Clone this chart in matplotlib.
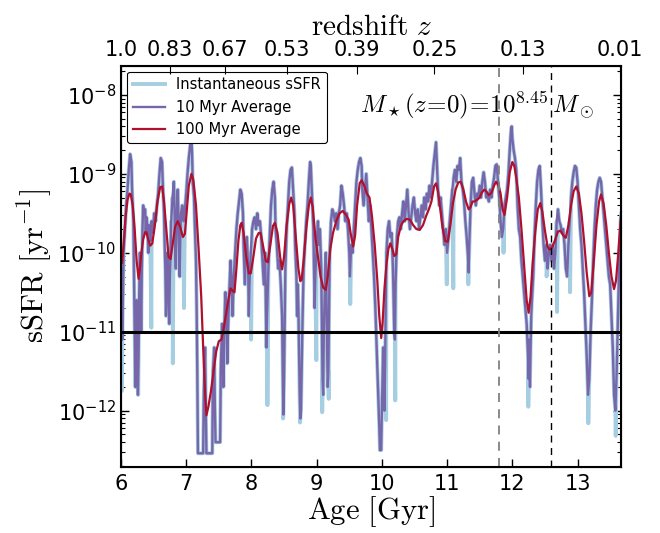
import numpy as np
import matplotlib
matplotlib.use("Agg")
import matplotlib.pyplot as plt

plt.rcParams['mathtext.fontset'] = 'cm'
plt.rcParams['font.family'] = 'DejaVu Sans'

# === Data (age in Gyr, log10 sSFR in yr^-1) ===
# 10 Myr average
age_10 = [6.00, 6.01, 6.02, 6.03, 6.04, 6.06, 6.08, 6.10, 6.12, 6.14, 6.16, 6.17, 6.19, 6.20,
          6.21, 6.22, 6.23, 6.24, 6.25, 6.26, 6.27, 6.28, 6.29, 6.30, 6.31, 6.32, 6.33, 6.34,
          6.35, 6.37, 6.38, 6.39, 6.41, 6.42, 6.43, 6.45, 6.47, 6.49, 6.51, 6.53, 6.55, 6.57,
          6.59, 6.61, 6.63, 6.64, 6.66, 6.67, 6.68, 6.69, 6.70, 6.71, 6.72, 6.73, 6.74, 6.75,
          6.76, 6.77, 6.79, 6.81, 6.82, 6.83, 6.84, 6.85, 6.86, 6.87, 6.88, 6.89, 6.90, 6.91,
          6.92, 6.94, 6.96, 6.98, 7.00, 7.02, 7.04, 7.06, 7.08, 7.09, 7.10, 7.12, 7.13, 7.15,
          7.16, 7.17, 7.18, 7.22, 7.26, 7.27, 7.29, 7.30, 7.31, 7.36, 7.40, 7.41, 7.43, 7.44,
          7.45, 7.50, 7.52, 7.53, 7.55, 7.56, 7.57, 7.58, 7.59, 7.60, 7.62, 7.63, 7.64, 7.66,
          7.68, 7.70, 7.71, 7.73, 7.75, 7.77, 7.79, 7.81, 7.83, 7.85, 7.87, 7.88, 7.90, 7.91,
          7.93, 7.95, 7.96, 7.97, 7.99, 8.01, 8.03, 8.05, 8.07, 8.09, 8.11, 8.13, 8.15, 8.17,
          8.19, 8.21, 8.22, 8.23, 8.24, 8.26, 8.28, 8.30, 8.32, 8.34, 8.36, 8.37, 8.39, 8.41,
          8.43, 8.45, 8.47, 8.48, 8.49, 8.50, 8.51, 8.52, 8.54, 8.56, 8.58, 8.60, 8.62, 8.64,
          8.66, 8.67, 8.69, 8.70, 8.71, 8.72, 8.73, 8.74, 8.75, 8.76, 8.77, 8.78, 8.79,
          8.80, 8.82, 8.84, 8.86, 8.88, 8.90, 8.91, 8.93, 8.95, 8.96, 8.97, 8.98, 9.00, 9.02,
          9.03, 9.05, 9.07, 9.08, 9.09, 9.10, 9.11, 9.13, 9.14, 9.15, 9.16, 9.17, 9.18, 9.19,
          9.20, 9.22, 9.24, 9.26, 9.28, 9.30, 9.32, 9.34, 9.36, 9.38, 9.40, 9.42, 9.44, 9.46,
          9.48, 9.50, 9.51, 9.53, 9.55, 9.57, 9.59, 9.61, 9.63, 9.65, 9.67, 9.69, 9.70, 9.72,
          9.74, 9.76, 9.78, 9.80, 9.82, 9.84, 9.86, 9.88, 9.90, 9.92, 9.94, 9.96, 9.97, 9.99,
          10.00, 10.01, 10.02, 10.03, 10.04, 10.05, 10.06, 10.07, 10.09, 10.11, 10.13, 10.15,
          10.17, 10.19, 10.20, 10.21, 10.23, 10.25, 10.27, 10.29, 10.31, 10.33, 10.35, 10.37,
          10.39, 10.41, 10.43, 10.45, 10.47, 10.49, 10.51, 10.53, 10.55, 10.57, 10.59, 10.61,
          10.63, 10.65, 10.67, 10.69, 10.71, 10.73, 10.75, 10.77, 10.79, 10.81, 10.83, 10.84,
          10.86, 10.88, 10.90, 10.92, 10.94, 10.96, 10.98, 11.00, 11.02, 11.04, 11.06, 11.08,
          11.10, 11.12, 11.14, 11.16, 11.18, 11.20, 11.22, 11.24, 11.26,
          11.28, 11.30, 11.32, 11.33, 11.34, 11.36, 11.38, 11.40, 11.42, 11.44, 11.46, 11.48,
          11.50, 11.52, 11.54, 11.56, 11.58, 11.60, 11.62, 11.64, 11.66, 11.68, 11.70, 11.72,
          11.74, 11.76, 11.78, 11.80, 11.82, 11.84, 11.86, 11.88, 11.90, 11.92, 11.94, 11.96,
          11.98, 11.99, 12.00, 12.02, 12.04, 12.06, 12.08, 12.10, 12.12, 12.14, 12.16, 12.18,
          12.20, 12.22, 12.24, 12.25, 12.26, 12.27, 12.28, 12.29, 12.30, 12.32, 12.34, 12.36,
          12.38, 12.40, 12.42, 12.44, 12.46, 12.48, 12.50, 12.52, 12.54, 12.56, 12.58, 12.60,
          12.62, 12.64, 12.66, 12.68, 12.70, 12.72, 12.74, 12.76, 12.78, 12.80, 12.82, 12.84,
          12.86, 12.88, 12.90, 12.92, 12.94, 12.96, 12.98, 13.00, 13.02, 13.04, 13.06, 13.08,
          13.10, 13.12, 13.14, 13.16, 13.18, 13.20, 13.22, 13.24, 13.26, 13.28, 13.30, 13.32,
          13.34, 13.36, 13.38, 13.40, 13.42, 13.44, 13.46, 13.48, 13.50, 13.52, 13.54, 13.56,
          13.58, 13.60, 13.62, 13.64, 13.66, 13.67]
log_10 = [-10.20, -10.60, -11.10, -10.50, -10.00, -9.70, -9.40, -9.20, -8.95, -8.75, -8.85, -9.20, -9.60, -10.30,
          -11.00, -11.70, -11.20, -10.60, -11.40, -11.80, -11.30, -10.50, -10.00, -10.40, -11.00, -10.20, -9.70, -9.40,
          -9.50, -9.45, -9.75, -9.55, -9.70, -10.00, -9.65, -9.85, -9.60, -9.75, -9.50, -9.60, -9.40, -9.25,
          -9.00, -8.80, -8.85, -9.10, -9.50, -9.90, -10.20, -10.80, -10.40, -10.00, -10.20, -10.60, -10.90, -10.30,
          -10.00, -9.60, -9.30, -9.10, -9.40, -9.90, -10.20, -9.70, -9.40, -9.20, -9.50, -9.90, -10.30, -9.80,
          -9.50, -9.40, -9.60, -9.45, -9.25, -9.00, -8.80, -8.65, -8.55, -8.75, -9.10, -9.30, -9.60, -10.10,
          -10.70, -11.50, -12.54, -12.54, -12.54, -11.80, -11.20, -12.00, -12.54, -12.54, -12.54, -11.50, -11.20, -12.00,
          -12.40, -12.40, -12.40, -11.50, -10.90, -11.30, -11.70, -11.20, -10.80, -10.50, -10.70, -11.40, -11.00, -10.50,
          -10.10, -10.40, -10.80, -10.30, -10.00, -9.70, -9.50, -9.35, -9.20, -9.25, -9.50, -9.90, -10.40, -10.10,
          -9.80, -10.20, -10.80, -10.40, -10.00, -9.70, -9.60, -9.55, -9.70, -9.50, -9.65, -9.60, -9.80, -10.10,
          -10.40, -10.00, -10.60, -11.20, -10.80, -10.20, -9.80, -9.40, -9.20, -9.10, -9.30, -9.70, -9.90, -10.20,
          -10.10, -10.40, -10.80, -11.50, -12.05, -11.60, -10.90, -10.20, -9.70, -9.40, -9.10, -8.95, -8.92, -9.20,
          -9.50, -9.90, -10.30, -10.80, -10.40, -10.70, -11.30, -11.80, -12.10, -12.00, -11.50, -11.00, -10.60,
          -10.20, -9.90, -9.60, -9.40, -9.10, -8.85, -8.90, -9.30, -9.70, -10.20, -10.70, -10.30, -9.90, -9.60,
          -9.90, -9.70, -10.20, -10.90, -11.60, -11.80, -11.00, -10.30, -10.00, -10.50, -11.20, -11.70, -11.50, -10.80,
          -10.00, -9.60, -9.45, -9.50, -9.60, -9.50, -9.70, -9.50, -9.40, -9.15, -9.25, -9.40, -9.60, -9.50,
          -9.70, -10.00, -10.30, -9.90, -10.00, -9.70, -9.40, -9.10, -8.95, -8.85, -8.80, -8.90, -9.20, -9.40,
          -9.20, -9.00, -9.30, -9.60, -9.40, -9.70, -10.00, -10.30, -10.70, -11.20, -11.70, -12.20, -12.50, -12.50,
          -12.00, -11.60, -11.20, -11.70, -12.00, -11.40, -10.60, -10.00, -9.70, -9.60, -9.80, -9.75,
          -10.20, -11.00, -11.10, -10.40, -9.80, -9.60, -9.55, -9.70, -9.50, -9.35, -9.60, -9.40,
          -9.20, -9.50, -9.70, -9.55, -9.40, -9.30, -9.50, -9.60, -9.45, -9.70, -9.55, -9.40,
          -9.55, -9.30, -9.45, -9.25, -9.35, -9.15, -9.30, -9.10, -8.90, -8.75, -8.60, -8.80,
          -9.20, -9.40, -9.30, -9.50, -9.70, -9.90, -9.70, -10.00, -9.80, -9.60, -9.40, -9.20,
          -9.05, -8.95, -9.10, -8.90, -8.95, -8.80, -9.10, -9.20, -9.35,
          -9.60, -9.80, -10.05, -10.25, -9.90, -9.40, -9.10, -9.05, -9.25, -9.40, -9.25, -9.30,
          -9.15, -9.30, -9.10, -8.98, -9.10, -9.30, -9.25, -9.35, -9.20, -9.30, -9.15, -9.05,
          -8.90, -8.88, -9.10, -9.30, -9.60, -9.80, -9.70, -9.40, -9.30, -9.20, -9.00, -8.70,
          -8.45, -8.40, -8.55, -8.70, -8.80, -8.95, -9.40, -9.70, -9.80, -10.10, -10.30, -10.50,
          -10.70, -10.90, -11.30, -11.60, -11.10, -11.70, -11.20, -10.80, -10.60, -10.30, -9.80, -9.40,
          -9.10, -8.95, -8.90, -9.20, -9.60, -9.90, -10.10, -9.90, -10.20, -10.00, -9.90, -10.10,
          -9.90, -10.20, -10.00, -9.60, -9.45, -9.60, -9.65, -9.75, -9.70, -9.90, -10.20, -10.30,
          -9.90, -9.60, -9.30, -9.10, -8.98, -8.90, -8.92, -9.10, -9.40, -9.70, -9.90, -10.20,
          -10.50, -10.90, -11.30, -11.80, -11.60, -11.00, -10.60, -10.10, -9.70, -9.40, -9.20, -9.10,
          -9.05, -9.10, -9.30, -9.50, -9.70, -9.90, -10.10, -10.30, -10.40, -10.80, -11.20, -11.80,
          -12.00, -11.50, -10.80, -10.10, -9.60, -9.50]

# extra dips of the instantaneous sSFR that stick out beyond the 10 Myr average
spike_age = [6.015, 6.265, 6.465, 6.775, 6.795, 6.965, 7.995, 8.245, 8.485, 8.745, 8.995,
             9.085, 9.185, 9.515, 10.065, 10.205, 10.995, 11.095, 11.325, 11.865, 12.245,
             12.525, 12.685, 12.885, 13.165, 13.585]
spike_log = [-11.75, -11.80, -10.95, -10.85, -11.40, -10.70, -11.10, -11.93, -12.10, -12.15, -11.36,
             -12.02, -11.85, -10.65, -12.12, -11.87, -10.40, -10.45, -10.40, -10.00, -11.95,
             -10.30, -10.75, -10.50, -12.16, -12.32]

# 100 Myr average
age_100 = [6.00, 6.015, 6.04, 6.07, 6.10, 6.13, 6.15, 6.18, 6.21, 6.24, 6.27, 6.29, 6.31, 6.34,
           6.37, 6.39, 6.42, 6.45, 6.48, 6.52, 6.56, 6.60, 6.63, 6.66, 6.70, 6.73, 6.76, 6.79,
           6.83, 6.87, 6.91, 6.95, 6.98, 7.01, 7.04, 7.08, 7.11, 7.15, 7.19, 7.23, 7.26, 7.29,
           7.31, 7.34, 7.38, 7.42, 7.46, 7.50, 7.54, 7.57, 7.61, 7.65, 7.68, 7.71, 7.74, 7.77,
           7.80, 7.83, 7.85, 7.88, 7.92, 7.96, 7.99, 8.03, 8.07, 8.11, 8.14, 8.18, 8.22, 8.25,
           8.29, 8.33, 8.36, 8.40, 8.44, 8.47, 8.50, 8.54, 8.58, 8.61, 8.64, 8.68, 8.72, 8.75,
           8.77, 8.80, 8.84, 8.88, 8.91, 8.94, 8.98, 9.02, 9.06, 9.10, 9.14, 9.17, 9.21, 9.25,
           9.30, 9.35, 9.40, 9.45, 9.49, 9.52, 9.56, 9.59, 9.62, 9.66, 9.69, 9.73, 9.77, 9.81,
           9.85, 9.89, 9.93, 9.96, 9.99, 10.01, 10.04, 10.07, 10.10, 10.13, 10.16, 10.19, 10.22,
           10.25, 10.29, 10.33, 10.38, 10.43, 10.48, 10.53, 10.58, 10.63, 10.68, 10.72, 10.76,
           10.80, 10.83, 10.86, 10.89, 10.93, 10.97, 11.01, 11.05, 11.09, 11.13, 11.17, 11.21,
           11.25, 11.29, 11.33, 11.36, 11.39, 11.42, 11.46, 11.50, 11.53, 11.57, 11.60, 11.64,
           11.68, 11.72, 11.75, 11.79, 11.82, 11.85, 11.88, 11.92, 11.96, 12.00, 12.03, 12.06,
           12.10, 12.14, 12.18, 12.22, 12.25, 12.28, 12.31, 12.35, 12.39, 12.43, 12.46, 12.50,
           12.54, 12.57, 12.61, 12.65, 12.70, 12.74, 12.78, 12.82, 12.86, 12.90, 12.94, 12.98,
           13.02, 13.06, 13.10, 13.14, 13.18, 13.21, 13.25, 13.29, 13.33, 13.36, 13.40, 13.44,
           13.48, 13.52, 13.56, 13.59, 13.62, 13.65, 13.67]
log_100 = [-10.05, -10.13, -9.90, -9.55, -9.33, -9.25, -9.26, -9.40, -9.70, -10.10, -10.33, -10.20, -10.02, -9.83,
           -9.74, -9.74, -9.84, -9.91, -9.88, -9.65, -9.35, -9.17, -9.16, -9.35, -9.75, -10.05, -10.08, -9.90,
           -9.67, -9.60, -9.68, -9.80, -9.76, -9.45, -9.15, -9.00, -9.08, -9.40, -9.95, -10.55, -11.20, -11.80,
           -12.06, -11.95, -11.75, -11.50, -11.25, -11.12, -11.10, -10.98, -10.78, -10.58, -10.45, -10.48, -10.50, -10.20,
           -9.85, -9.65, -9.62, -9.75, -10.05, -10.26, -10.26, -10.05, -9.82, -9.75, -9.75, -9.92, -10.10, -10.12,
           -9.90, -9.66, -9.62, -9.75, -10.05, -10.21, -10.05, -9.65, -9.38, -9.30, -9.40, -9.80, -10.20, -10.36,
           -10.34, -10.10, -9.70, -9.40, -9.30, -9.42, -9.80, -10.05, -10.30, -10.44, -10.47, -10.30, -9.95, -9.75,
           -9.60, -9.50, -9.47, -9.52, -9.58, -9.75, -9.92, -9.78, -9.40, -9.12, -9.08, -9.15, -9.25, -9.30,
           -9.55, -9.90, -10.35, -10.80, -11.08, -10.90, -10.45, -10.15, -9.95, -9.88, -9.95, -10.04, -10.02,
           -9.80, -9.66, -9.60, -9.57, -9.58, -9.65, -9.70, -9.71, -9.65, -9.53, -9.45, -9.35,
           -9.16, -9.12, -9.22, -9.42, -9.68, -9.85, -9.86, -9.65, -9.37, -9.20, -9.11, -9.10,
           -9.20, -9.35, -9.45, -9.42, -9.35, -9.35, -9.33, -9.30, -9.24, -9.20, -9.22, -9.27,
           -9.24, -9.15, -9.10, -9.15, -9.25, -9.45, -9.52, -9.30, -8.98, -8.85, -8.90, -9.05,
           -9.30, -9.70, -10.15, -10.60, -10.76, -10.55, -10.15, -9.75, -9.45, -9.37, -9.48, -9.72,
           -9.92, -9.96, -9.93, -9.85, -9.73, -9.72, -9.78, -9.81, -9.65, -9.40, -9.22, -9.16,
           -9.25, -9.50, -9.85, -10.25, -10.55, -10.50, -10.10, -9.65, -9.35, -9.26, -9.38, -9.65,
           -10.00, -10.30, -10.46, -10.35, -10.05, -9.70, -9.50]

# redshift labels on the top axis and the ages they sit at
z_tick_age = [6.0, 6.75, 7.60, 8.54, 9.615, 10.805, 12.16, 13.65]
z_tick_label = ['1.0', '0.83', '0.67', '0.53', '0.39', '0.25', '0.13', '0.01']

log_mstar = 8.45
ssfr_quench = 1e-11
age_gray_line = 11.8
age_black_line = 12.6

# === Build the instantaneous series: the 10 Myr points plus the extra dips ===
age_inst = np.array(age_10 + spike_age)
log_inst = np.array(log_10 + spike_log)
order = np.argsort(age_inst, kind='stable')
age_inst, log_inst = age_inst[order], log_inst[order]

# === Plot ===
fig = plt.figure(figsize=(6.6, 5.33), dpi=100)
ax = fig.add_axes([0.1833, 0.1244, 0.758, 0.7523])

ax.plot(age_inst, 10**log_inst, color='#a6cee3', lw=2.8, label='Instantaneous sSFR')
ax.plot(age_10, 10**np.array(log_10), color='#7767aa', lw=1.7, label='10 Myr Average')
ax.plot(age_100, 10**np.array(log_100), color='#b0102e', lw=1.6, label='100 Myr Average')

ax.axhline(ssfr_quench, color='k', lw=2.2)
ax.axvline(age_gray_line, color='gray', ls='--', lw=1.3, dashes=(5, 4))
ax.axvline(age_black_line, color='k', ls='--', lw=1.0, dashes=(5, 4))

ax.set_yscale('log')
ax.set_xlim(6.0, 13.67)
ax.set_ylim(10**-12.71, 10**-7.63)
ax.set_xticks(range(6, 14))
ax.tick_params(axis='both', which='both', direction='in', top=False, right=True)
ax.tick_params(axis='both', which='major', length=6, width=1, labelsize=15)
ax.tick_params(axis='both', which='minor', length=3, width=0.8)
ax.tick_params(axis='x', pad=5)
for s in ax.spines.values():
    s.set_linewidth(1.5)

ax.set_xlabel(r'$\mathrm{Age\ [Gyr]}$', fontsize=22, labelpad=0)
ax.set_ylabel(r'$\mathrm{sSFR\ [yr^{-1}]}$', fontsize=22, labelpad=2)

ax.text(0.477, 0.902, r'$M_\star(z\!=\!0)\!=\!10^{%.2f}\,M_\odot$' % log_mstar,
        transform=ax.transAxes, fontsize=18, ha='left', va='center')

leg = ax.legend(loc='upper left', fontsize=10.5, fancybox=True, framealpha=1,
                edgecolor='k', borderaxespad=0.4, handlelength=2.2)
leg.get_frame().set_linewidth(0.8)

# top axis with redshift
ax2 = ax.twiny()
ax2.set_xlim(ax.get_xlim())
ax2.set_xticks(z_tick_age)
ax2.set_xticklabels(z_tick_label)
ax2.tick_params(axis='x', direction='in', length=6, labelsize=15, pad=4)
ax2.set_xlabel(r'$\mathrm{redshift}\ z$', fontsize=21, labelpad=4)

fig.savefig('out.png', dpi=100)
